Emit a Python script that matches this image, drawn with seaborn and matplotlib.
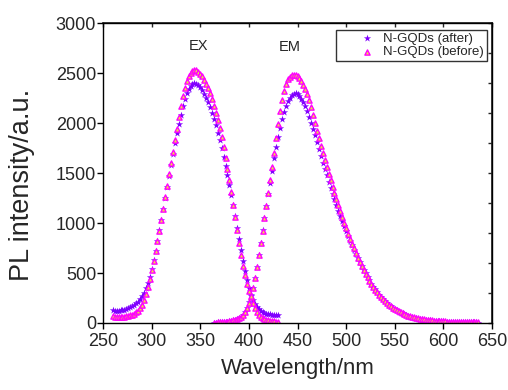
import numpy as np
import pandas as pd
import matplotlib
matplotlib.use("Agg")
import matplotlib.pyplot as plt
import seaborn as sns

sns.set_theme(style="ticks")
plt.rcParams['font.family'] = ['Liberation Sans', 'DejaVu Sans']

# wavelength grids (nm) for the excitation and emission scans
ex_wl = np.arange(260, 431, 2)
em_wl = np.arange(364, 637, 2)

# excitation spectra
ex_before = [65, 62, 60, 60, 60, 62, 64, 68, 72, 76,
             82, 92, 105, 122, 145, 180, 228, 288, 360, 440,
             530, 625, 720, 820, 925, 1035, 1145, 1258, 1372, 1487,
             1600, 1715, 1830, 1945, 2060, 2170, 2270, 2355, 2425, 2475,
             2505, 2522, 2528, 2526, 2515, 2495, 2468, 2435, 2395, 2350,
             2300, 2240, 2175, 2105, 2030, 1950, 1860, 1760, 1655, 1545,
             1430, 1310, 1185, 1060, 930, 800, 685, 575, 475, 390,
             320, 255, 195, 145, 105, 78, 58, 45, 36, 30,
             25, 21, 18, 15, 13, 12]
ex_after = [125, 122, 122, 123, 125, 128, 133, 140, 148, 157,
            168, 180, 195, 213, 236, 265, 300, 345, 400, 463,
            540, 630, 725, 825, 928, 1035, 1145, 1255, 1365, 1475,
            1585, 1695, 1800, 1900, 1995, 2085, 2170, 2240, 2300, 2345,
            2375, 2392, 2398, 2395, 2382, 2360, 2330, 2295, 2255, 2210,
            2160, 2105, 2045, 1980, 1905, 1830, 1750, 1665, 1575, 1480,
            1385, 1285, 1180, 1070, 955, 840, 730, 620, 520, 425,
            345, 280, 230, 190, 160, 135, 118, 106, 98, 93,
            89, 86, 84, 82, 81, 80]

# emission spectra
em_before = [3, 4, 5, 6, 7, 9, 11, 14, 17, 21,
             25, 30, 36, 45, 58, 78, 105, 145, 200, 265,
             345, 445, 563, 680, 800, 925, 1050, 1175, 1300, 1430,
             1565, 1705, 1850, 1990, 2120, 2230, 2320, 2390, 2437, 2464,
             2478, 2483, 2480, 2468, 2448, 2420, 2385, 2345, 2295, 2230,
             2160, 2085, 2005, 1925, 1850, 1775, 1705, 1635, 1565, 1495,
             1430, 1365, 1300, 1240, 1180, 1120, 1060, 1005, 950, 895,
             845, 795, 748, 700, 655, 612, 570, 530, 492, 456,
             422, 390, 360, 332, 305, 280, 257, 236, 216, 198,
             181, 166, 152, 139, 127, 116, 106, 97, 88, 80,
             73, 66, 60, 55, 50, 46, 42, 38, 35, 32,
             29, 27, 25, 23, 21, 19, 18, 17, 16, 15,
             14, 13, 12, 11, 10, 9, 9, 8, 8, 7,
             7, 6, 6, 6, 5, 5, 5]
em_after = [3, 4, 5, 6, 7, 9, 11, 14, 17, 21,
            26, 32, 40, 50, 64, 84, 112, 150, 205, 270,
            350, 450, 565, 685, 805, 930, 1050, 1170, 1290, 1405,
            1520, 1650, 1760, 1860, 1955, 2040, 2110, 2170, 2218, 2255,
            2280, 2294, 2297, 2288, 2270, 2243, 2208, 2166, 2118, 2064,
            2005, 1942, 1876, 1808, 1740, 1672, 1605, 1540, 1476, 1414,
            1353, 1294, 1236, 1180, 1125, 1071, 1019, 968, 918, 870,
            823, 777, 733, 690, 648, 608, 569, 531, 495, 460,
            426, 394, 364, 335, 308, 283, 259, 237, 217, 198,
            181, 165, 150, 137, 125, 114, 104, 95, 86, 78,
            71, 64, 58, 53, 48, 44, 40, 36, 33, 30,
            28, 26, 24, 22, 20, 18, 17, 16, 15, 14,
            13, 12, 11, 10, 9, 9, 8, 8, 7, 7,
            6, 6, 6, 5, 5, 5, 4]

labels = {'after': 'N-GQDs (after)', 'before': 'N-GQDs (before)'}

frames = []
for sample, ex, em in [('after', ex_after, em_after), ('before', ex_before, em_before)]:
    frames.append(pd.DataFrame({'wavelength': ex_wl, 'intensity': ex, 'sample': sample, 'band': 'EX'}))
    frames.append(pd.DataFrame({'wavelength': em_wl, 'intensity': em, 'sample': sample, 'band': 'EM'}))
df = pd.concat(frames, ignore_index=True)

fig, ax = plt.subplots(figsize=(5.08, 3.9), dpi=100)
fig.subplots_adjust(left=0.2028, right=0.9685, bottom=0.1718, top=0.941)

after = df[df['sample'] == 'after']
before = df[df['sample'] == 'before']
sns.scatterplot(data=after, x='wavelength', y='intensity', marker='*', s=30,
                color='#8000FF', linewidth=0, ax=ax, label=labels['after'])
sns.scatterplot(data=before, x='wavelength', y='intensity', marker='^', s=14,
                color='#F0E040', edgecolor='#FF00FF', linewidth=1.0, ax=ax,
                label=labels['before'])

ax.set_xlim(250, 650)
ax.set_ylim(0, 3000)
ax.set_xticks(range(250, 651, 50))
ax.set_yticks(range(0, 3001, 500))
for s in ax.spines.values():
    s.set_color('black')
    s.set_linewidth(1)
    s.set_visible(True)
ax.tick_params(direction='out', length=4, width=1, color='black', labelsize=13)
ax.tick_params(axis='x', pad=3)
ax.tick_params(axis='y', pad=1)

# inward ticks on the top and right frame
top = ax.secondary_xaxis('top')
top.set_xticks(range(250, 651, 50))
top.tick_params(direction='in', length=3, width=1, labeltop=False)
right = ax.secondary_yaxis('right')
right.set_yticks(range(0, 3001, 300))
right.tick_params(direction='in', length=3, width=1, labelright=False)

ax.text(347.7, 2770, 'EX', ha='center', va='center', fontsize=10.5)
ax.text(442.3, 2763, 'EM', ha='center', va='center', fontsize=10.5)

ax.set_xlabel('Wavelength/nm', fontsize=16)
ax.xaxis.set_label_coords(0.5, -0.117)
ax.set_ylabel('PL intensity/a.u.', fontsize=19.5)
ax.yaxis.set_label_coords(-0.175, 0.46)

leg = ax.legend(loc='upper right', bbox_to_anchor=(0.9864, 0.9767), borderaxespad=0,
                fontsize=9.5, frameon=True, fancybox=False, edgecolor='#333333',
                framealpha=1, handlelength=4.2, handletextpad=-0.85, borderpad=0.2,
                labelspacing=0.1, scatterpoints=1)
leg.get_frame().set_linewidth(1)

fig.savefig('out.png', dpi=100)
